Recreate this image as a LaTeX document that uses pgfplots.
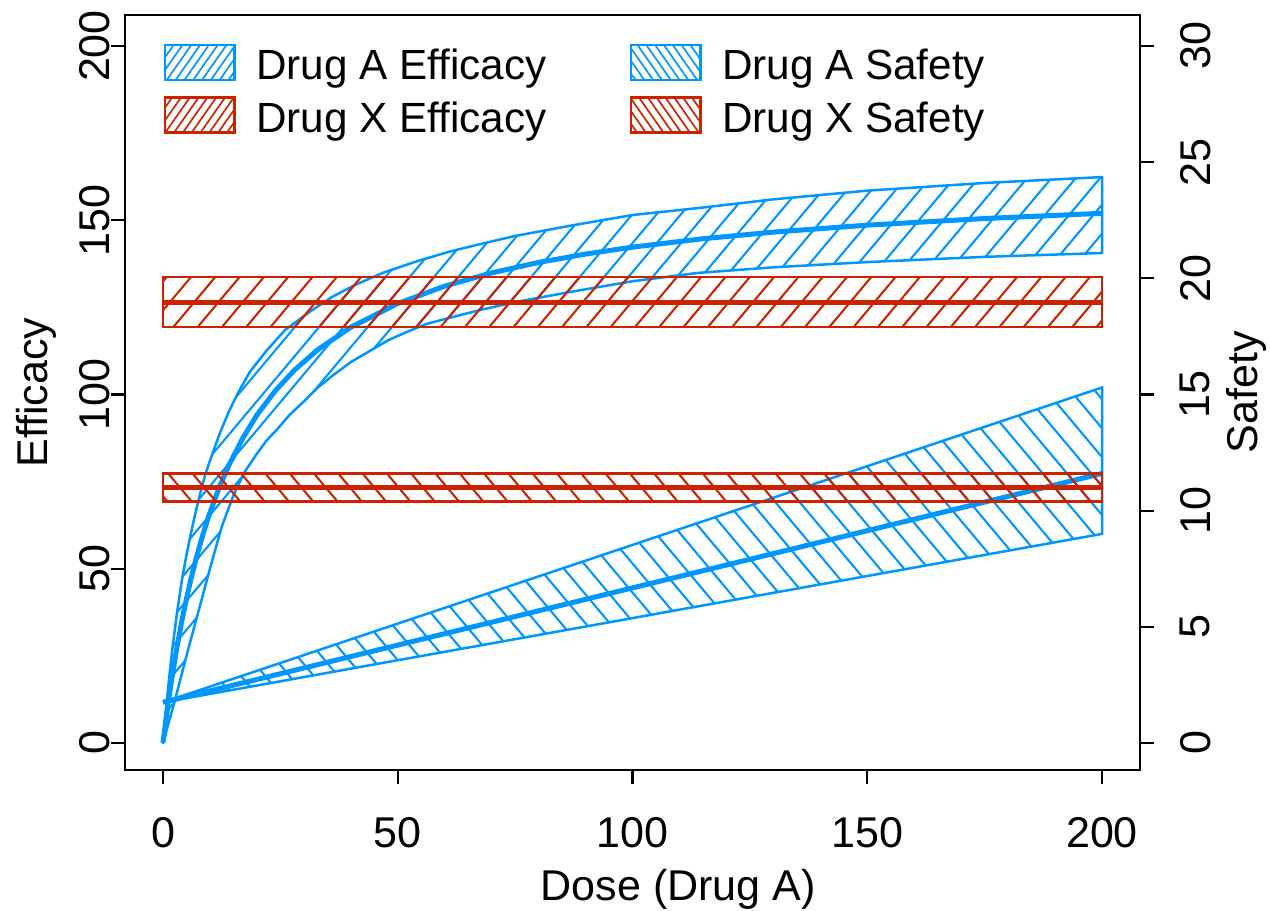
\documentclass[border=0pt]{standalone}
\usepackage{pgfplots}
\pgfplotsset{compat=1.18}
\usepackage{fontspec}
\setmainfont{Liberation Sans}
\usetikzlibrary{patterns.meta}
\definecolor{ablue}{RGB}{0,150,255}
\definecolor{xred}{RGB}{204,34,0}
\newcommand{\fs}{\fontsize{15.5}{18}\selectfont}
\newcommand{\fl}{\fontsize{15.2}{18}\selectfont}

\pgfplotsset{
  base/.style={
    scale only axis, width=365.4pt, height=271.8pt,
    xmin=-8.09, xmax=208.09,
    tick align=outside, major tick length=5.2pt,
    tick style={black, line width=0.8pt},
    axis line style={black, line width=0.9pt},
    /pgf/number format/assume math mode=true,
    ticklabel style={font=\fs, inner sep=0pt},
    label style={font=\fs},
  },
  mylegend/.style={legend image code/.code={\draw[##1] (0pt,0pt) rectangle (25pt,12.6pt); \path[draw=none,fill=none] (0pt,0pt) -- (30.85pt,0pt);}},
}

\begin{document}
\begin{tikzpicture}
\begin{axis}[base,
  ymin=-7.75, ymax=208.9,
  xtick={0,50,100,150,200}, ytick={0,50,100,150,200},
  xtick pos=lower, ytick pos=left,
  xticklabel style={anchor=north, yshift=-11.5pt},
  yticklabel style={rotate=90, anchor=south},
  xlabel={Dose (Drug A)}, ylabel={Efficacy},
  xlabel style={at={(axis description cs:0.545,-0.1722)}, anchor=base},
  ylabel style={at={(axis description cs:-0.0759,0.5)}, anchor=base},
  legend style={at={(axis description cs:0,1)}, anchor=north west, xshift=13.7pt, yshift=-10.1pt,
    draw=none, fill=none, inner sep=0pt, font=\fl, row sep=2.4pt, column sep=0pt,
    cells={anchor=base west},
    /tikz/every even column/.append style={column sep=28pt}},
  legend columns=2,
]
% legend
\addlegendimage{mylegend, draw=ablue, line width=0.9pt, pattern={Lines[angle=55,distance=2.6pt,line width=0.6pt]}, pattern color=ablue}
\addlegendentry{Drug A Efficacy}
\addlegendimage{mylegend, draw=ablue, line width=0.9pt, pattern={Lines[angle=-55,distance=2.6pt,line width=0.6pt]}, pattern color=ablue}
\addlegendentry{Drug A Safety}
\addlegendimage{mylegend, draw=xred, line width=0.9pt, pattern={Lines[angle=55,distance=2.6pt,line width=0.6pt]}, pattern color=xred}
\addlegendentry{Drug X Efficacy}
\addlegendimage{mylegend, draw=xred, line width=0.9pt, pattern={Lines[angle=-55,distance=2.6pt,line width=0.6pt]}, pattern color=xred}
\addlegendentry{Drug X Safety}

% Drug A efficacy band (upper bound, then lower bound reversed)
\addplot[forget plot, draw=ablue, line width=0.9pt, line join=round, pattern={Lines[angle=50,distance=6.7pt,line width=0.75pt]}, pattern color=ablue]
coordinates {(0,0) (0.5,7.5) (1,14.5) (1.5,21) (2,27) (3,37.5) (4,46.5) (5,54) (6,60.5) (7,66.5) (8,72) (9,77) (10,81) (12,88.5) (14,95) (16,100.5) (18.5,106.5) (22,112.5) (26,118.5) (31,123.5) (36,128) (41,131.5) (47,135) (54,138.2) (61,141) (68,143.3) (75,145.5) (87,148.5) (100,151.5) (114,153.5) (130,156) (150,158.5) (175,160.7) (200,162.4)
(200,140.6) (175,139.5) (150,138) (130,136.5) (114,134.9) (100,132.5) (87,129.5) (75,126.5) (68,124.4) (61,122) (56,120.2) (52,118) (48,115.6) (44.7,113) (40,109.3) (36.2,105.5) (33,102) (30,98) (27,94.2) (24.3,90) (22,86.7) (20,83) (17.5,78) (15.3,72) (14,67.5) (12.5,62) (11.25,56) (10,50) (7.5,37.5) (5,25) (2.5,12) (0,0)} --cycle;
\addplot[forget plot, ablue, line width=1.8pt, line join=round]
coordinates {(0,0) (0.5,5.4) (1,10.4) (1.5,15.1) (2,19.5) (3,27.6) (4,34.9) (5,41.4) (6,47.3) (7,52.6) (8,57.5) (9,62.0) (10,66.1) (12,73.4) (14,79.6) (17,87.5) (20,94.1) (24,101.2) (28,107.0) (33,112.9) (40,119.3) (50,126.1) (60,131.1) (70,134.9) (80,137.9) (90,140.3) (100,142.3) (115,144.7) (130,146.6) (150,148.6) (175,150.5) (200,152.0)};

% Drug X efficacy band
\addplot[forget plot, draw=xred, line width=0.9pt, pattern={Lines[angle=50,distance=6.7pt,line width=0.75pt]}, pattern color=xred]
coordinates {(0,119.4) (200,119.4) (200,133.7) (0,133.7)} --cycle;
\addplot[forget plot, xred, line width=1.8pt] coordinates {(0,126.5) (200,126.5)};
\end{axis}

\begin{axis}[base,
  ymin=-1.162, ymax=31.33,
  axis x line=none, axis y line*=right,
  ytick={0,5,10,15,20,25,30}, ytick pos=right,
  tick align=outside,
  yticklabel style={xshift=9pt, rotate=90, anchor=north},
  ylabel={Safety},
  ylabel style={at={(axis description cs:1.1153,0.5)}, anchor=base},
]
% Drug A safety band
\addplot[draw=ablue, line width=0.9pt, pattern={Lines[angle=-50,distance=6.7pt,line width=0.75pt]}, pattern color=ablue]
coordinates {(0,1.75) (200,15.3) (200,9.0)} --cycle;
\addplot[ablue, line width=1.8pt] coordinates {(0,1.75) (200,11.6)};

% Drug X safety band
\addplot[draw=xred, line width=0.9pt, pattern={Lines[angle=-50,distance=6.7pt,line width=0.75pt]}, pattern color=xred]
coordinates {(0,10.4) (200,10.4) (200,11.6) (0,11.6)} --cycle;
\addplot[xred, line width=1.8pt] coordinates {(0,11.0) (200,11.0)};

\coordinate (bl) at (rel axis cs:0,0);
\coordinate (tr) at (rel axis cs:1,1);
\end{axis}
\pgfresetboundingbox
\path[use as bounding box] ([xshift=-45pt,yshift=-50.4pt]bl) rectangle ([xshift=46.8pt,yshift=5.4pt]tr);
\end{tikzpicture}
\end{document}
